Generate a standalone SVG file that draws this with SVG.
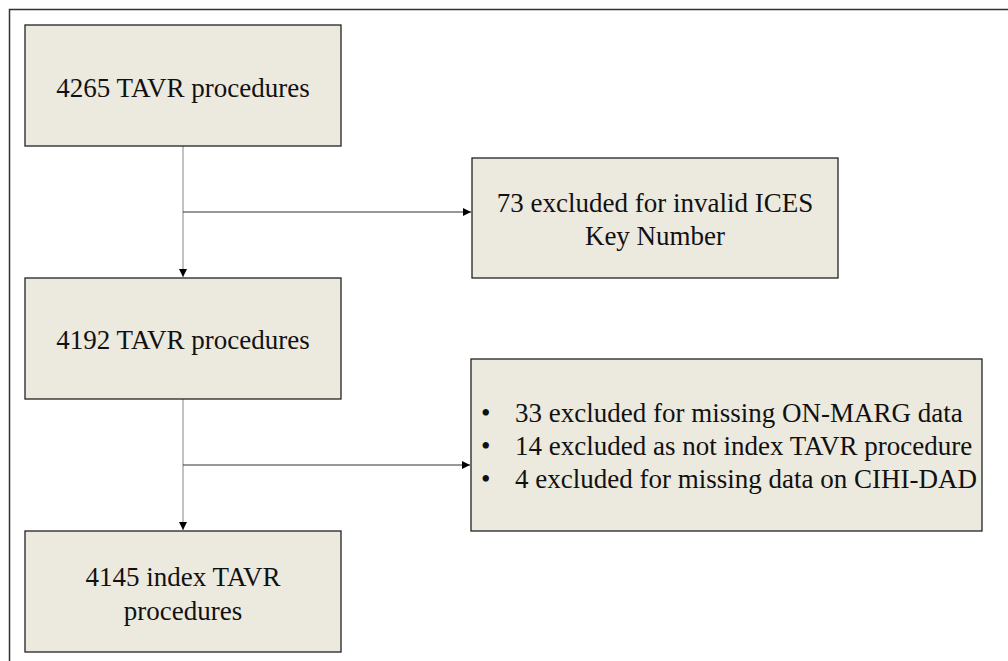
<svg xmlns="http://www.w3.org/2000/svg" width="1008" height="661" viewBox="0 0 1008 661">
<style>
.box{fill:#ECE9DF;stroke:#222;stroke-width:1.3}
text{font-family:'Liberation Serif',serif;font-size:27px;fill:#111}
.c{text-anchor:middle}
.v{stroke:#999;stroke-width:1.2;fill:none}
.h{stroke:#333;stroke-width:1;fill:none}
</style>
<defs>
<marker id="ah" viewBox="0 0 10 10" refX="10" refY="5" markerWidth="8" markerHeight="8" markerUnits="userSpaceOnUse" orient="auto">
<path d="M0,0 L10,5 L0,10 z" fill="#000"/>
</marker>
</defs>
<rect x="0" y="0" width="1008" height="661" fill="#fff"/>
<rect x="9.5" y="9.5" width="1010" height="670" fill="none" stroke="#333" stroke-width="1.5"/>
<g id="connectors">
<line class="v" x1="183" y1="146" x2="183" y2="277" marker-end="url(#ah)"/>
<line class="h" x1="183" y1="212" x2="471" y2="212" marker-end="url(#ah)"/>
<line class="v" x1="183" y1="399" x2="183" y2="530" marker-end="url(#ah)"/>
<line class="h" x1="183" y1="465" x2="470" y2="465" marker-end="url(#ah)"/>
</g>
<g id="n1">
<rect class="box" x="25" y="25" width="316" height="121"/>
<text class="c" x="183" y="97">4265 TAVR procedures</text>
</g>
<g id="n2">
<rect class="box" x="472" y="158" width="366" height="120"/>
<text class="c" x="655" y="212">73 excluded for invalid ICES</text>
<text class="c" x="655" y="245">Key Number</text>
</g>
<g id="n3">
<rect class="box" x="25" y="278" width="316" height="121"/>
<text class="c" x="183" y="349">4192 TAVR procedures</text>
</g>
<g id="n4">
<rect class="box" x="471" y="359" width="511" height="172"/>
<text x="481" y="422">•</text>
<text x="515" y="422">33 excluded for missing ON-MARG data</text>
<text x="481" y="455">•</text>
<text x="515" y="455">14 excluded as not index TAVR procedure</text>
<text x="481" y="488">•</text>
<text x="515" y="488">4 excluded for missing data on CIHI-DAD</text>
</g>
<g id="n5">
<rect class="box" x="25" y="531" width="316" height="121"/>
<text class="c" x="183" y="586">4145 index TAVR</text>
<text class="c" x="183" y="620">procedures</text>
</g>
</svg>
